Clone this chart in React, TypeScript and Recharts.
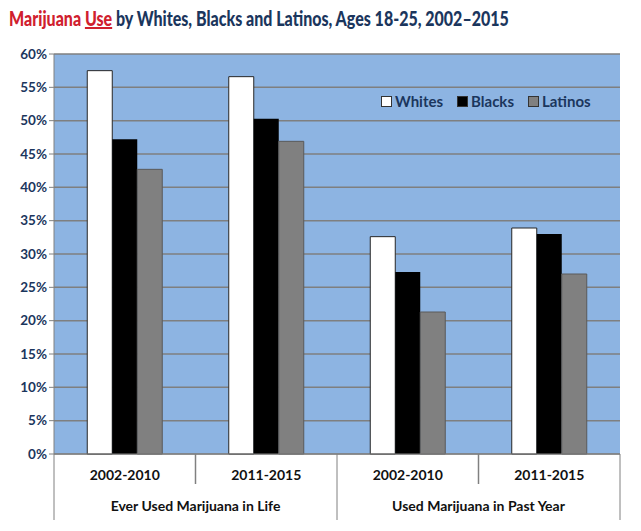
import React from 'react';
import { BarChart, Bar, XAxis, YAxis, CartesianGrid, Legend } from 'recharts';

const periods = ['2002-2010', '2011-2015', '2002-2010', '2011-2015'];
const groups = ['Ever Used Marijuana in Life', 'Used Marijuana in Past Year'];
const whites = [57.5, 56.6, 32.6, 33.9];
const blacks = [47.2, 50.3, 27.3, 33.0];
const latinos = [42.7, 46.9, 21.3, 27.0];
const yTicks = [0, 5, 10, 15, 20, 25, 30, 35, 40, 45, 50, 55, 60];

const data = periods.map((p, i) => ({
  period: p,
  whites: whites[i],
  blacks: blacks[i],
  latinos: latinos[i],
}));

const NAVY = '#1B365D';
const FONT = 'Lato, "Open Sans", sans-serif';
const W = 641;
const H = 531;
const PLOT_LEFT = 54;
const PLOT_RIGHT = 620;
const BAND = (PLOT_RIGHT - PLOT_LEFT) / periods.length;

// two-level category axis: period on row 1, group name on row 2, with the box lines
function PeriodTick(props: any) {
  const { x, y, payload, index } = props;
  const left = x - BAND / 2;
  const right = x + BAND / 2;
  const isGroupStart = index % 2 === 0;
  return (
    <g>
      <line x1={left} y1={y} x2={left} y2={isGroupStart ? y + 66 : y + 30} stroke="#808080" strokeWidth={isGroupStart ? 1 : 1.5} />
      {index === periods.length - 1 && (
        <line x1={right} y1={y} x2={right} y2={y + 66} stroke="#808080" />
      )}
      <text x={x} y={y + 26} textAnchor="middle" fill="#111" fontSize={14} fontWeight="bold" fontFamily={FONT}>
        {payload.value}
      </text>
      {isGroupStart && (
        <text x={right} y={y + 57} textAnchor="middle" fill="#111" fontSize={14} fontWeight="bold" fontFamily={FONT}>
          {groups[index / 2]}
        </text>
      )}
    </g>
  );
}

const legendItems = [
  { label: 'Whites', color: '#ffffff' },
  { label: 'Blacks', color: '#000000' },
  { label: 'Latinos', color: '#808080' },
];

function LegendBox() {
  return (
    <div style={{ display: 'flex', gap: 14, fontFamily: FONT, fontWeight: 'bold', fontSize: 15, color: NAVY }}>
      {legendItems.map((it) => (
        <span key={it.label} style={{ display: 'flex', alignItems: 'center' }}>
          <span style={{ width: 9, height: 9, background: it.color, border: '1px solid #333', marginRight: 3 }} />
          {it.label}
        </span>
      ))}
    </div>
  );
}

export default function App() {
  return (
    <div style={{ position: 'absolute', left: 0, top: 0, width: W, height: H, background: '#fff' }}>
      <div
        style={{
          position: 'absolute',
          left: 9,
          top: 6,
          fontFamily: FONT,
          fontWeight: 900,
          fontSize: 20,
          color: NAVY,
          whiteSpace: 'nowrap',
          transform: 'scaleX(0.8)',
          transformOrigin: 'left top',
        }}
      >
        <span style={{ color: '#D0202E' }}>Marijuana </span>
        <span style={{ color: '#D0202E', textDecoration: 'underline' }}>Use</span>
        <span> by Whites, Blacks and Latinos, Ages 18-25, 2002–2015</span>
      </div>
      <BarChart
        width={W}
        height={H}
        data={data}
        margin={{ top: 54, right: W - PLOT_RIGHT, left: 8, bottom: 11 }}
        barCategoryGap="23.5%"
        barGap={0}
      >
        <CartesianGrid vertical={false} stroke="#7F7F7F" strokeWidth={1.5} fill="#8DB4E2" fillOpacity={1} />
        <XAxis
          dataKey="period"
          axisLine={{ stroke: '#808080' }}
          tickLine={false}
          tickSize={0}
          tickMargin={0}
          height={66}
          interval={0}
          tick={<PeriodTick />}
        />
        <YAxis
          width={46}
          domain={[0, 60]}
          ticks={yTicks}
          tickFormatter={(v) => `${v}%`}
          axisLine={{ stroke: '#808080' }}
          tickLine={{ stroke: '#808080' }}
          tickSize={5}
          tick={{ fill: NAVY, fontSize: 13.5, fontWeight: 'bold', fontFamily: FONT }}
        />
        <Legend
          layout="horizontal"
          verticalAlign="middle"
          align="center"
          content={<LegendBox />}
          wrapperStyle={{ position: 'absolute', top: 92, left: 381, width: 'auto' }}
        />
        <Bar dataKey="whites" fill="#ffffff" stroke="#262626" strokeWidth={1} isAnimationActive={false} />
        <Bar dataKey="blacks" fill="#000000" isAnimationActive={false} />
        <Bar dataKey="latinos" fill="#808080" stroke="#5a5a5a" strokeWidth={1} isAnimationActive={false} />
      </BarChart>
    </div>
  );
}
